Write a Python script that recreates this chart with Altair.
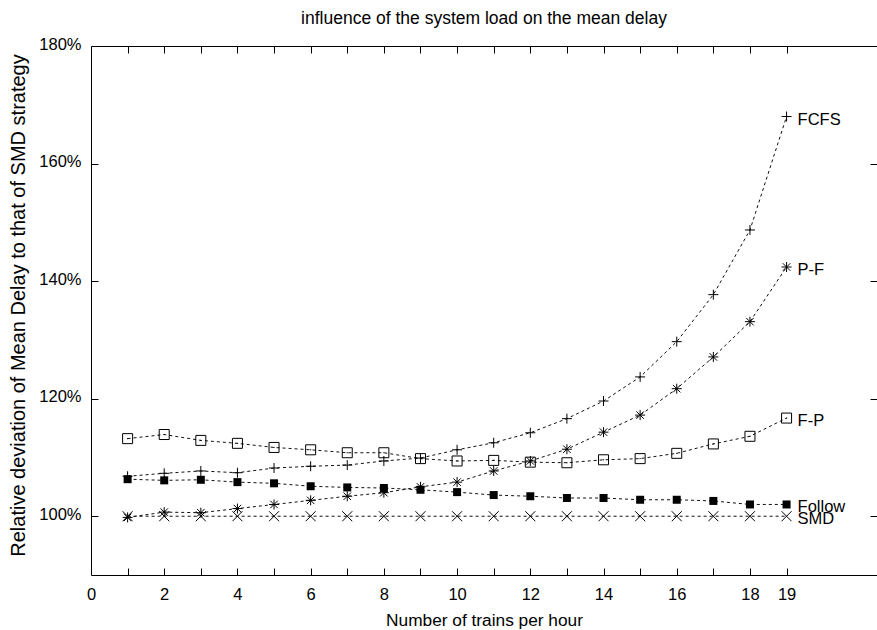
import altair as alt
import pandas as pd

# ---- data ----
trains = list(range(1, 20))
fcfs = [106.8, 107.3, 107.7, 107.4, 108.2, 108.5, 108.7, 109.4, 109.9, 111.3,
        112.5, 114.2, 116.6, 119.6, 123.7, 129.7, 137.7, 148.7, 168.0]
pf = [99.8, 100.7, 100.6, 101.3, 102.0, 102.7, 103.4, 104.0, 105.0, 105.8,
      107.7, 109.4, 111.4, 114.3, 117.2, 121.7, 127.1, 133.1, 142.4]
fp = [113.2, 113.9, 112.9, 112.4, 111.7, 111.3, 110.8, 110.8, 109.8, 109.4,
      109.5, 109.2, 109.1, 109.6, 109.8, 110.7, 112.3, 113.6, 116.7]
follow = [106.3, 106.1, 106.2, 105.8, 105.6, 105.1, 104.9, 104.8, 104.5, 104.1,
          103.6, 103.4, 103.1, 103.1, 102.8, 102.8, 102.6, 102.0, 102.0]
smd = [100.0] * 19

series_names = ["FCFS", "P-F", "F-P", "Follow", "SMD"]
x_label_values = [0, 2, 4, 6, 8, 10, 12, 14, 16, 18, 19]
x_tick_values = list(range(1, 20))
y_tick_values = [100, 120, 140, 160, 180]

title_text = "influence of the system load on the mean delay"
x_title = "Number of trains per hour"
y_title = "Relative deviation of Mean Delay to that of SMD strategy"

values = {"FCFS": fcfs, "P-F": pf, "F-P": fp, "Follow": follow, "SMD": smd}
rows = [{"series": s, "trains": t, "delay": v}
        for s in series_names for t, v in zip(trains, values[s])]
df = pd.DataFrame(rows)
last = df[df["trains"] == trains[-1]]
open_df = df[df["series"] != "Follow"]
follow_df = df[df["series"] == "Follow"]

# ---- styling ----
W, H = 786, 529
FONT = "Liberation Sans"
FS = 16.5
xscale = alt.Scale(domain=[0, 21.47], nice=False, zero=False)
yscale = alt.Scale(domain=[90, 180], nice=False, zero=False)

shape_domain = ["FCFS", "P-F", "F-P", "SMD"]
shape_range = [
    "M-1,0L1,0M0,-1L0,1",
    "M-1,0L1,0M0,-1L0,1M-0.75,-0.75L0.75,0.75M-0.75,0.75L0.75,-0.75",
    "M-1,-1L1,-1L1,1L-1,1ZM-0.12,0L0.12,0",
    "M-1,-1L1,1M-1,1L1,-1",
]
size_range = [100, 100, 72, 64]

x_main = alt.X("trains:Q", scale=xscale, axis=alt.Axis(
    orient="bottom", values=x_label_values, ticks=False, grid=False,
    domain=True, domainColor="black", domainWidth=1,
    labelFont=FONT, labelFontSize=FS, labelColor="black",
    labelBaseline="alphabetic", labelPadding=24,
    labelFlush=False, labelOverlap=False,
    title=x_title, titleFont=FONT, titleFontSize=17.3, titleFontWeight="normal",
    titleColor="black", titleBaseline="alphabetic", titleY=50))
y_main = alt.Y("delay:Q", scale=yscale, axis=alt.Axis(
    orient="left", values=y_tick_values, ticks=False, grid=False,
    domain=True, domainColor="black", domainWidth=1,
    labelFont=FONT, labelFontSize=FS, labelColor="black",
    labelExpr="datum.value + '%'", labelPadding=10, labelOverlap=False,
    labelFlush=False, labelOffset=-2,
    title=y_title, titleFont=FONT, titleFontSize=20, titleFontWeight="normal",
    titleColor="black", titleAngle=-90, titleX=-73, titleY=259,
    titleBaseline="middle", titleAlign="center"))

# inward ticks on bottom and left edges
x_in_bottom = alt.X("trains:Q", scale=xscale, axis=alt.Axis(
    orient="top", offset=-H, values=x_tick_values, labels=False, domain=False,
    grid=False, ticks=True, tickSize=7, tickColor="black", tickWidth=1, title=None))
y_in_left = alt.Y("delay:Q", scale=yscale, axis=alt.Axis(
    orient="right", offset=-W, values=y_tick_values, labels=False, domain=False,
    grid=False, ticks=True, tickSize=7, tickColor="black", tickWidth=1, title=None))
# top border with inward ticks, and inward ticks on the right edge
x_top = alt.X("trains:Q", scale=xscale, axis=alt.Axis(
    orient="bottom", offset=-H, values=x_tick_values, labels=False, domain=True,
    domainColor="black", domainWidth=1,
    grid=False, ticks=True, tickSize=7, tickColor="black", tickWidth=1, title=None))
y_right = alt.Y("delay:Q", scale=yscale, axis=alt.Axis(
    orient="left", offset=-W, values=y_tick_values, labels=False, domain=False,
    grid=False, ticks=True, tickSize=7, tickColor="black", tickWidth=1, title=None))

lines = alt.Chart(df).mark_line(
    strokeDash=[3, 3], strokeWidth=1, color="#111111"
).encode(x=x_main, y=y_main, detail="series:N")

open_points = alt.Chart(open_df).mark_point(
    filled=False, color="black", strokeWidth=1, opacity=1
).encode(
    x=x_in_bottom, y=y_in_left,
    shape=alt.Shape("series:N", scale=alt.Scale(domain=shape_domain, range=shape_range), legend=None),
    size=alt.Size("series:N", scale=alt.Scale(domain=shape_domain, range=size_range), legend=None),
)

follow_points = alt.Chart(follow_df).mark_point(
    shape="square", filled=True, color="black", size=64, opacity=1
).encode(
    x=alt.X("trains:Q", scale=xscale, axis=None),
    y=alt.Y("delay:Q", scale=yscale, axis=None),
)

labels = alt.Chart(last).mark_text(
    align="left", baseline="middle", dx=11, dy=3,
    font=FONT, fontSize=FS, color="black"
).encode(x=x_top, y=y_right, text="series:N")

chart = alt.layer(lines, open_points, follow_points, labels).resolve_axis(
    x="independent", y="independent"
).properties(
    width=W, height=H,
    title=alt.TitleParams(title_text, font=FONT, fontSize=17.5, fontWeight="normal",
                          color="black", anchor="middle", frame="group",
                          baseline="alphabetic", offset=-5),
    autosize=alt.AutoSizeParams(type="none"),
    padding={"left": 91, "top": 46, "right": 0, "bottom": 55},
).configure_view(strokeOpacity=0)

chart.save("out.html", embed_options={"renderer": "svg", "actions": False})
